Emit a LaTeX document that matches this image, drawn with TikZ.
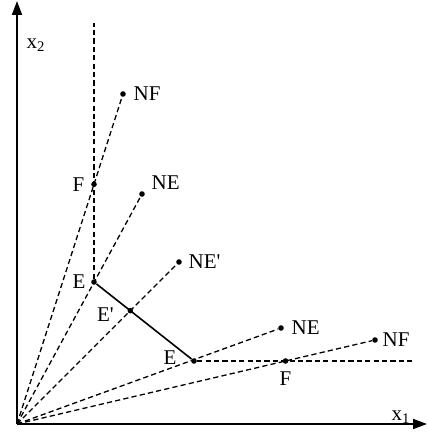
\documentclass[tikz,border=0pt]{standalone}
\usepackage{fontspec}
\setmainfont{Liberation Serif}
\usetikzlibrary{arrows.meta,positioning}

\begin{document}
\begin{tikzpicture}[
  x=0.5pt,y=0.5pt,
  node distance=1.5pt,
  axis/.style={-{Triangle[length=7pt,width=5pt]},line width=0.9pt},
  ray/.style={dash pattern=on 2.6pt off 1.6pt,line width=0.65pt},
  front/.style={line width=0.8pt},
  pt/.style={circle,fill,inner sep=0pt,minimum size=2.8pt},
  lbl/.style={inner sep=1pt,font=\fontsize{10.5}{12}\selectfont}
]
\useasboundingbox (0,0) rectangle (427,435);
% axes
\coordinate (O) at (17,11);
\coordinate (xend) at (427,11);
\coordinate (yend) at (17,434);
\draw[axis] (O) -- (xend);
\draw[axis] (O) -- (yend);
\node[lbl] (x1) at (401,18) {x\textsubscript{1}};
\node[lbl] (x2) at (36,390) {x\textsubscript{2}};
% guide lines
\coordinate (vtop) at (94,412);
\coordinate (hend) at (415,74);
\coordinate (Eupos) at (94,153);
\coordinate (Elpos) at (194,74);
\node[pt] (NFu) at (123,341) {};
\node[pt] (NEu) at (142,241) {};
\node[pt] (NEp) at (179,173) {};
\node[pt] (NEl) at (281,107) {};
\node[pt] (NFl) at (375,95) {};
\node[pt] (Eu) at (Eupos) {};
\node[pt] (El) at (Elpos) {};
\node[pt] (Fu) at (intersection of O--NFu and Eupos--vtop) {};
\node[pt] (Ep) at (intersection of O--NEp and Eupos--Elpos) {};
\node[pt] (Fl) at (intersection of O--NFl and Elpos--hend) {};
% rays from the origin
\draw[ray] (O) -- (NFu);
\draw[ray] (O) -- (NEu);
\draw[ray] (O) -- (NEp);
\draw[ray] (O) -- (NEl);
\draw[ray] (O) -- (NFl);
\draw[ray] (Eu) -- (vtop);
\draw[ray] (El) -- (hend);
% efficient frontier
\draw[front] (Eu) -- (El);
% labels
\node[lbl,right=2.5pt of NFu] (lNFu) {NF};
\node[lbl,left=2pt of Fu] (lFu) {F};
\node[lbl,above right=0pt and 2.5pt of NEu] (lNEu) {NE};
\node[lbl,left=1.5pt of Eu] (lEu) {E};
\node[lbl,right=2pt of NEp] (lNEp) {NE\textquotesingle};
\node[lbl,left=5.5pt of Ep,yshift=-2pt] (lEp) {E\textquotesingle};
\node[lbl,left=6pt of El,yshift=1.5pt] (lEl) {E};
\node[lbl,right=2.5pt of NEl] (lNEl) {NE};
\node[lbl,right=1pt of NFl] (lNFl) {NF};
\node[lbl,below=2.5pt of Fl] (lFl) {F};
\end{tikzpicture}
\end{document}
